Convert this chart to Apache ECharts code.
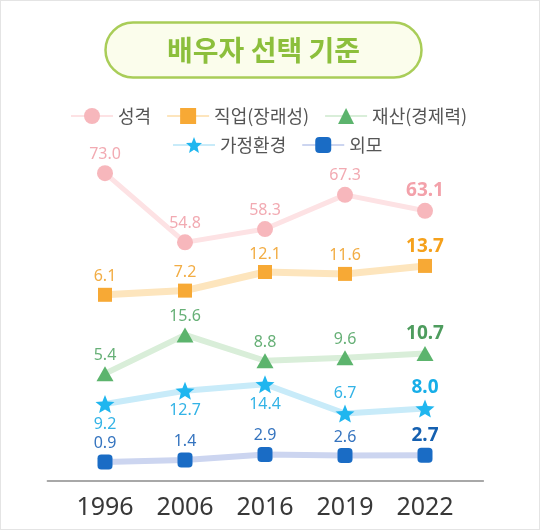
<!DOCTYPE html>
<html><head><meta charset="utf-8">
<script src="https://cdn.jsdelivr.net/npm/echarts@6/dist/echarts.min.js"></script>
<style>
html,body{margin:0;padding:0;background:#fff}
#c{position:absolute;left:0;top:0;width:540px;height:530px}
#f{position:absolute;left:0;top:0;width:540px;height:530px;box-sizing:border-box;border:1px solid #e4e4e4;pointer-events:none}
</style>
</head><body><div id="c"></div><div id="f"></div>
<script>
// ---- data ----
const years = ['1996', '2006', '2016', '2019', '2022'];
const personality = [73.0, 54.8, 58.3, 67.3, 63.1];   // 성격
const job = [6.1, 7.2, 12.1, 11.6, 13.7];             // 직업(장래성)
const wealth = [5.4, 15.6, 8.8, 9.6, 10.7];           // 재산(경제력)
const family = [9.2, 12.7, 14.4, 6.7, 8.0];           // 가정환경
const looks = [0.9, 1.4, 2.9, 2.6, 2.7];              // 외모
const names = ['성격', '직업(장래성)', '재산(경제력)', '가정환경', '외모'];
const titleText = '배우자 선택 기준';

// ---- styling ----
const NUMFONT = 'Noto Sans';
const KFONT = 'Noto Sans CJK KR';
const STAR = 'path://M50,0 L62.93,32.2 L97.55,34.55 L70.92,56.8 L79.39,90.45 L50,72 L20.61,90.45 L29.08,56.8 L2.45,34.55 L37.07,32.2 Z';

function mk(name, values, yIdx, st) {
  return {
    name: name,
    type: 'line',
    xAxisIndex: 0,
    yAxisIndex: yIdx,
    symbol: st.symbol,
    symbolSize: st.size,
    itemStyle: { color: st.marker },
    lineStyle: { color: st.line, width: st.lw },
    z: 3,
    data: values.map(function (v, i) {
      const last = i === values.length - 1;
      const pos = st.posFn ? st.posFn(i) : 'top';
      return {
        value: [i, v],
        label: {
          position: pos,
          fontSize: last ? 19 : 16,
          fontWeight: last ? 'bold' : 'normal',
          color: last ? st.bold : st.label
        }
      };
    }),
    label: {
      show: true,
      distance: 3,
      fontFamily: NUMFONT,
      formatter: function (p) { return p.value[1].toFixed(1); }
    }
  };
}

const legendText = { fontFamily: KFONT, fontSize: 18, color: '#555' };

const option = {
  animation: false,
  backgroundColor: '#ffffff',
  title: {
    text: titleText,
    left: 105,
    top: 22,
    padding: [14, 62],
    backgroundColor: '#fbfdec',
    borderColor: '#a9cd58',
    borderWidth: 2.5,
    borderRadius: 28,
    textStyle: { fontFamily: KFONT, fontSize: 28, fontWeight: 'bold', color: '#8cbf3c' }
  },
  legend: [
    {
      data: names.slice(0, 3), left: 65, top: 102, itemWidth: 42, itemHeight: 20, itemGap: 15,
      textStyle: legendText
    },
    {
      data: names.slice(3), left: 167, top: 131, itemWidth: 42, itemHeight: 20, itemGap: 15,
      textStyle: legendText
    }
  ],
  grid: { left: 47.4, right: 56.6, top: 139, bottom: 49 },
  xAxis: {
    type: 'value',
    min: -0.72,
    max: 4.73,
    axisLine: { show: true, onZero: false, lineStyle: { color: '#8c8c8c', width: 1.5 } },
    axisTick: { show: false },
    splitLine: { show: false },
    axisLabel: {
      customValues: [0, 1, 2, 3, 4],
      formatter: function (v) { return years[Math.round(v)]; },
      fontFamily: NUMFONT,
      fontSize: 25,
      color: '#383838',
      margin: 14
    }
  },
  yAxis: [
    { min: -8.0, max: 82.0 },
    { min: -42.9, max: 47.1 },
    { min: -22.85, max: 67.15 },
    { min: -11.05, max: 78.95 },
    { min: -4.1, max: 85.9 }
  ].map(function (a) { return Object.assign({ type: 'value', show: false }, a); }),
  series: [
    mk(names[0], personality, 0, { symbol: 'circle', size: 16, marker: '#f7b7bc', line: '#fde2e4', lw: 5, label: '#f2aab2', bold: '#f3a1aa' }),
    mk(names[1], job, 1, { symbol: 'rect', size: 14, marker: '#f7a935', line: '#fde5bd', lw: 7, label: '#f2ad45', bold: '#f5a11c' }),
    mk(names[2], wealth, 2, { symbol: 'triangle', size: [17, 15], marker: '#5cb46d', line: '#d9eed9', lw: 6, label: '#67b077', bold: '#4e9c5e' }),
    mk(names[3], family, 3, { symbol: STAR, size: [19, 18], marker: '#1fb6ef', line: '#c8ebf9', lw: 6, label: '#33b3e6', bold: '#17aee8', posFn: function (i) { return i < 3 ? 'bottom' : 'top'; } }),
    mk(names[4], looks, 4, { symbol: 'roundRect', size: 15, marker: '#1a6cc5', line: '#ccd5f0', lw: 6, label: '#3574bf', bold: '#1560b0' })
  ]
};

const chart = echarts.init(document.getElementById('c'), null, { renderer: 'canvas' });
chart.setOption(option);
</script>
</body></html>
